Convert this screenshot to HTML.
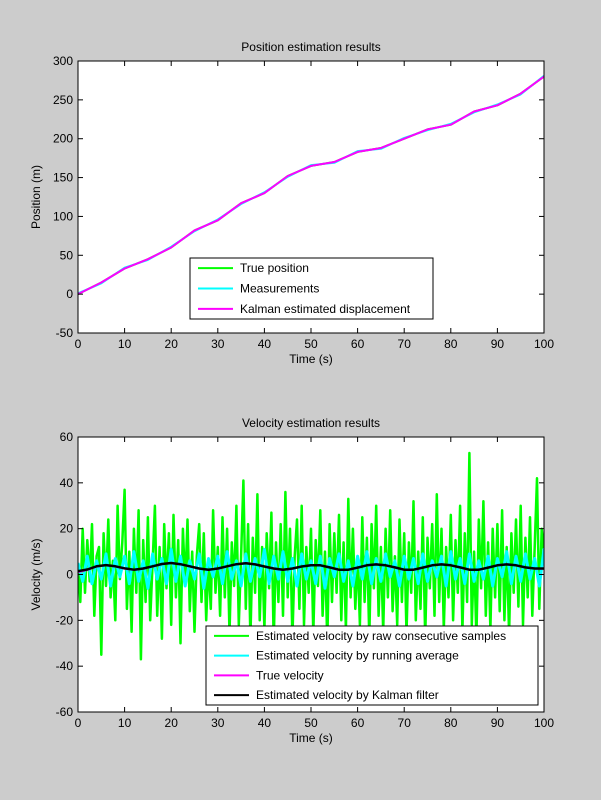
<!DOCTYPE html>
<html><head><meta charset="utf-8"><style>
body{margin:0;background:#cccccc;}
svg{display:block;font-family:"Liberation Sans",Arial,sans-serif;font-size:12px;}
</style></head><body>
<svg id="fig" width="601" height="800" xmlns="http://www.w3.org/2000/svg">
<defs>
<clipPath id="clipTop"><rect x="78" y="61" width="466" height="272"/></clipPath>
<clipPath id="clipBot"><rect x="78" y="437" width="466" height="275"/></clipPath>
</defs>
<rect width="601" height="800" fill="#cccccc"/>
<g id="top"></g>
<g id="bot"></g>
</svg>
<script>
const posTime=[0,5,10,15,20,25,30,35,40,45,50,55,60,65,70,75,80,85,90,95,100];
const posTrue=[0,15,33,45,60,82,95,117,130,152,165,170,183,188,200,212,218,235,243,258,280];
const posMeas=[1,14,34,44,61,81,96,116,131,151,166,169,184,187,201,211,219,234,244,257,281];
const posKal=[0,15,33,45,60,82,95,117,130,152,165,170,183,188,200,212,218,235,243,258,280];
const velRaw=[5,-12,20,-8,15,-3,22,-18,8,12,-35,18,-5,24,-10,6,-20,30,-2,14,
37,-15,10,-25,20,-8,28,-37,15,-12,25,-20,5,30,-18,12,-28,22,-6,18,
-22,26,-10,15,-30,20,-5,24,-16,10,-25,8,22,-12,18,-20,6,-15,28,-8,
12,-18,25,-10,20,-26,14,-5,30,-22,8,41,-15,22,-28,16,-8,35,-20,12,
-24,18,-6,27,-30,14,-12,22,-18,36,-10,20,-28,8,24,-15,30,-22,12,-8,
20,-26,15,-5,28,-18,10,-30,22,-12,18,-8,26,-20,14,-24,33,-10,20,-15,
8,-22,25,-12,16,-28,22,-6,30,-18,12,-25,20,-10,28,-16,8,-22,24,-12,
18,-26,14,-8,32,-20,10,-15,25,-28,16,-6,22,-18,35,-12,20,-24,12,-10,
26,-20,15,-8,30,-25,18,-12,53,-22,10,-28,24,-6,32,-18,14,-24,20,-10,
22,-16,28,-20,12,-26,18,-8,24,-14,30,-22,16,-10,25,-18,12,42,-15,20,10];
const velAvg=[5,-3,8,-4,6,-2,9,-5,7,-1,8,-4,10,-3,6,-6,9,-2,7,-4,11,-3,8,-5,6,-2,9,-6,7,-1,8,-4,10,-2,6,-5,9,-3,7,-1,11,-4,8,-2,10,-3,7,-5,9,-2,6,-4,8,-6,7,-1,9,-3,6,-5,8,-2,10,-4,7,-3,9,-1,6,-5,8,-2,7,-4,9,-3,6,-1,8,-5,10,-2,7,-4,9,-3,6,-2,8,-5,7,-1,10,-4,8,-3,9,-2,7,-5,11,-3,8];
const velTrue=[1,2,3.5,4,3.5,2.5,2,2.5,3.5,4.5,5,4.5,3.5,2.5,2,2.5,3.5,4.5,5,4.5,3.5,2.5,2,2.5,3.5,4,4,3,2,2,3,4,4.5,4,3,2,2,3,4,4.5,4,3,2,2,3,4,4.5,4,3,2.5,2.5];
const velKal=[1.5,2.2,3.6,4.1,3.6,2.7,2.1,2.6,3.6,4.6,5,4.5,3.6,2.6,2.1,2.6,3.6,4.5,4.9,4.4,3.5,2.6,2.1,2.6,3.5,4,4,3.1,2.1,2.1,3,4,4.4,4,3.1,2.1,2.1,3,4,4.4,4,3.1,2.1,2.1,3,4,4.4,4,3.1,2.6,2.6];
const xTicks=[0,10,20,30,40,50,60,70,80,90,100];
const topYTicks=[-50,0,50,100,150,200,250,300];
const botYTicks=[-60,-40,-20,0,20,40,60];

const NS="http://www.w3.org/2000/svg";
function mk(p,t,a){const e=document.createElementNS(NS,t);for(const k in a)e.setAttribute(k,a[k]);p.appendChild(e);return e;}
function txt(p,x,y,s,anchor,extra){const e=mk(p,'text',Object.assign({x:x,y:y,'text-anchor':anchor||'middle'},extra||{}));e.textContent=s;return e;}

function axes(g,box,ymin,ymax,yTicks,title,ylabel){
  const sx=v=>box.x+(v-0)/(100)*box.w;
  const sy=v=>box.y+box.h-(v-ymin)/(ymax-ymin)*box.h;
  const bg=mk(g,'rect',{x:box.x,y:box.y,width:box.w,height:box.h,fill:'#fff'});
  
  
  return {sx,sy,finish:function(){
    mk(g,'rect',{x:box.x,y:box.y,width:box.w,height:box.h,fill:'none',stroke:'#000','stroke-width':1});
    xTicks.forEach(v=>{const X=sx(v);
      mk(g,'line',{x1:X,x2:X,y1:box.y+box.h,y2:box.y+box.h-5,stroke:'#000'});
      mk(g,'line',{x1:X,x2:X,y1:box.y,y2:box.y+5,stroke:'#000'});
      const t=txt(g,X,box.y+box.h+15,String(v));
      
      });
    yTicks.forEach(v=>{const Y=sy(v);
      mk(g,'line',{x1:box.x,x2:box.x+5,y1:Y,y2:Y,stroke:'#000'});
      mk(g,'line',{x1:box.x+box.w,x2:box.x+box.w-5,y1:Y,y2:Y,stroke:'#000'});
      const t=txt(g,box.x-5,Y+4,String(v),'end');
      
      });
    const tt=txt(g,box.x+box.w/2,box.y-10,title);
    
    
    const xl=txt(g,box.x+box.w/2,box.y+box.h+30,'Time (s)');
    
    
    const yl=txt(g,0,0,ylabel,'middle',{transform:`translate(${box.x-38},${box.y+box.h/2}) rotate(-90)`});
    
    
  }};
}
function line(g,xs,ys,a,color,w,name,clip){
  const pts=ys.map((v,i)=>a.sx(xs[i]).toFixed(1)+','+a.sy(v).toFixed(1)).join(' ');
  const e=mk(g,'polyline',{points:pts,fill:'none',stroke:color,'stroke-width':w,'stroke-linejoin':'round','clip-path':'url(#'+clip+')'});
  
  
}
function legend(g,x,y,w,h,items){
  const lg=mk(g,'g',{});
  
  
  mk(lg,'rect',{x:x,y:y,width:w,height:h,fill:'#fff',stroke:'#000'});
  const step=h/items.length;
  items.forEach((it,i)=>{const cy=y+step*(i+0.5);
    const ent=mk(lg,'g',{});
    
    
    mk(ent,'line',{x1:x+8,x2:x+43,y1:cy,y2:cy,stroke:it[1],'stroke-width':2});
    txt(ent,x+50,cy+4,it[0],'start');});
}
// top
const gt=document.getElementById('top');
const A=axes(gt,{x:78,y:61,w:466,h:272},-50,300,topYTicks,'Position estimation results','Position (m)');
line(gt,posTime,posTrue,A,'#00ff00',2,'true-position-line','clipTop');
line(gt,posTime,posMeas,A,'#00ffff',2,'measurements-line','clipTop');
line(gt,posTime,posKal,A,'#ff00ff',2,'kalman-position-line','clipTop');
A.finish();
legend(gt,190,258,243,61,[['True position','#00ff00'],['Measurements','#00ffff'],['Kalman estimated displacement','#ff00ff']]);
// bottom
const gb=document.getElementById('bot');
const B=axes(gb,{x:78,y:437,w:466,h:275},-60,60,botYTicks,'Velocity estimation results','Velocity (m/s)');
line(gb,velRaw.map((v,i)=>i*0.5),velRaw,B,'#00ff00',2.5,'raw-velocity-line','clipBot');
line(gb,velAvg.map((v,i)=>i),velAvg,B,'#00ffff',3,'running-average-line','clipBot');
line(gb,velTrue.map((v,i)=>i*2),velTrue,B,'#ff00ff',2,'true-velocity-line','clipBot');
line(gb,velKal.map((v,i)=>i*2),velKal,B,'#000000',2.5,'kalman-velocity-line','clipBot');
B.finish();
legend(gb,206,626,332,79,[['Estimated velocity by raw consecutive samples','#00ff00'],['Estimated velocity by running average','#00ffff'],['True velocity','#ff00ff'],['Estimated velocity by Kalman filter','#000000']]);
</script>
</body></html>
